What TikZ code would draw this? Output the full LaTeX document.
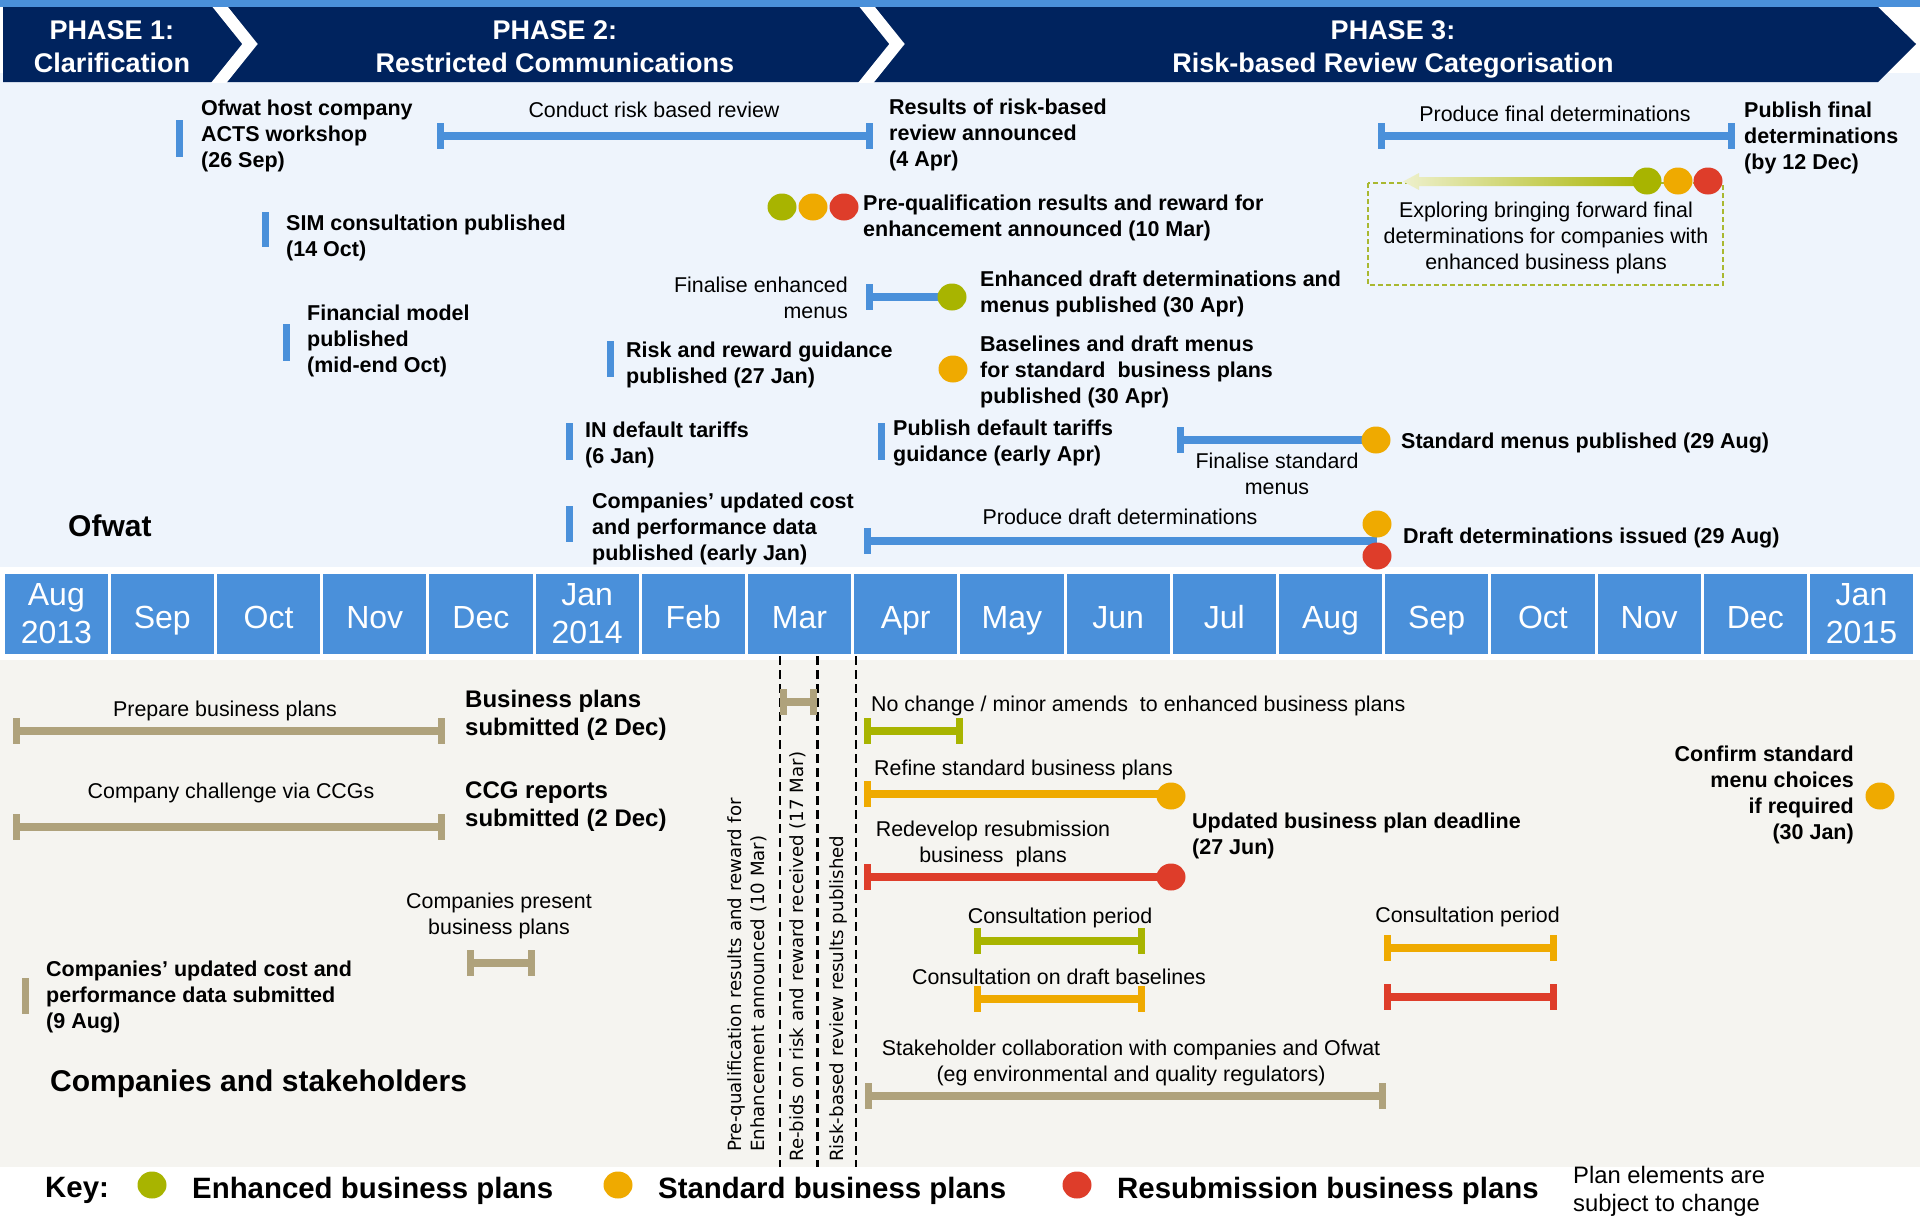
\documentclass[tikz,border=0pt]{standalone}
\usepackage{fontspec}
\setmainfont{Liberation Sans}
\newfontfamily\dvs{DejaVu Sans}
\definecolor{navy}{HTML}{00235E}
\definecolor{lblue}{HTML}{4A90DA}
\definecolor{ofbg}{HTML}{EEF4FC}
\definecolor{cobg}{HTML}{F5F4F0}
\definecolor{tanc}{HTML}{AFA27C}
\definecolor{enh}{HTML}{A8B400}
\definecolor{std}{HTML}{EFAA00}
\definecolor{rsb}{HTML}{DE3D2A}
\definecolor{dashg}{HTML}{A9B830}
% timeline bar with ticks at both ends: colour, x1, x2, y
\newcommand{\tlbar}[4]{%
  \fill[#1] ({#2},{#4-3.75}) rectangle ({#3},{#4+3.75});
  \fill[#1] ({#2},{#4-13}) rectangle ({#2+7},{#4+13});
  \fill[#1] ({#3-7},{#4-13}) rectangle ({#3},{#4+13});}
% bar with left tick only
\newcommand{\tlbarl}[4]{%
  \fill[#1] ({#2},{#4-3.75}) rectangle ({#3},{#4+3.75});
  \fill[#1] ({#2},{#4-13}) rectangle ({#2+7},{#4+13});}
% milestone tick: colour, x, y1, y2
\newcommand{\mtick}[4]{\fill[#1] ({#2},{#3}) rectangle ({#2+7},{#4});}
% coloured dot: colour, x, y
\newcommand{\blob}[3]{\fill[#1] ({#2},{#3}) ellipse [x radius=14.5, y radius=13.5];}
\begin{document}
\begin{tikzpicture}[x=1pt,y=-1pt,
  reg/.style={font=\fontsize{21.4}{26}\selectfont, inner sep=0pt, align=left},
  bld/.style={font=\fontsize{21.5}{26}\selectfont\bfseries, inner sep=0pt, align=left, yshift=-2.5pt},
  bigb/.style={font=\fontsize{24}{28}\selectfont\bfseries, inner sep=0pt, align=left, yshift=-2.5pt},
  head/.style={font=\fontsize{30}{34}\selectfont\bfseries, inner sep=0pt, yshift=-1.5pt},
  phase/.style={font=\fontsize{27}{33}\selectfont\bfseries, text=white, align=center, inner sep=0pt},
  month/.style={font=\fontsize{32}{38}\selectfont, text=white, inner sep=0pt, anchor=base},
  vert/.style={font=\dvs\fontsize{18.2}{23}\selectfont, rotate=90, anchor=west, align=left, inner sep=0pt},
  keyt/.style={font=\fontsize{29.4}{34}\selectfont\bfseries, inner sep=0pt, anchor=west, yshift=-2.5pt},
]
\useasboundingbox (0,0) rectangle (1920,1218);
\fill[white] (0,0) rectangle (1920,1218);
% backgrounds
\fill[ofbg] (0,73) rectangle (1920,567);
\fill[cobg] (0,660) rectangle (1920,1167);
\fill[lblue] (0,0) rectangle (1920,7);
% phase banner
\fill[navy] (3,7) -- (1878,7) -- (1916,44) -- (1878,82) -- (3,82) -- cycle;
\begin{scope}
  \clip (0,7) rectangle (1920,82);
  \draw[white, line width=12pt, miter limit=10] (213,-2) -- (250,44) -- (213,90);
  \draw[white, line width=12pt, miter limit=10] (860,-2) -- (897,44) -- (860,90);
\end{scope}
\node[phase] (ph1) at (112,46.5) {PHASE 1:\\Clarification};
\node[phase] (ph2) at (555,46.5) {PHASE 2:\\Restricted Communications};
\node[phase] (ph3) at (1393,49) {PHASE 3:\\Risk-based Review Categorisation};

% ---------------- Ofwat section ----------------
\node[head, anchor=west] (ofwat) at (68,524) {Ofwat};

\mtick{lblue}{176}{120}{157}
\node[bld, anchor=west] (acts) at (201,133) {Ofwat host company\\ACTS workshop\\(26 Sep)};

\tlbar{lblue}{437}{873}{136}
\node[reg] (crbr) at (654,110) {Conduct risk based review};
\node[bld, anchor=west] (rrba) at (889,132) {Results of risk-based\\review announced\\(4 Apr)};

\mtick{lblue}{262}{212}{247}
\node[bld, anchor=west] (sim) at (286,235) {SIM consultation published\\(14 Oct)};

\mtick{lblue}{283}{324}{361}
\node[bld, anchor=west] (fin) at (307,338) {Financial model\\published\\(mid-end Oct)};

\blob{enh}{782}{207}
\blob{std}{813}{207}
\blob{rsb}{844}{207}
\node[bld, anchor=west] (preq) at (863,215) {Pre-qualification results and reward for\\enhancement announced (10 Mar)};

\node[reg, anchor=east, align=right] (fem) at (848,297.5) {Finalise enhanced\\menus};
\tlbarl{lblue}{866}{952}{297}
\blob{enh}{952}{297}
\node[bld, anchor=west] (edd) at (980,291) {Enhanced draft determinations and\\menus published (30 Apr)};

\mtick{lblue}{607}{341}{377}
\node[bld, anchor=west] (rrg) at (626,362) {Risk and reward guidance\\published (27 Jan)};

\blob{std}{953}{369}
\node[bld, anchor=west] (base) at (980,369) {Baselines and draft menus\\for standard\ \ business plans\\published (30 Apr)};

\mtick{lblue}{566}{423}{460}
\node[bld, anchor=west] (indt) at (585,442) {IN default tariffs\\(6 Jan)};

\mtick{lblue}{878}{423}{460}
\node[bld, anchor=west] (pdtg) at (893,440) {Publish default tariffs\\guidance (early Apr)};

\tlbarl{lblue}{1177}{1376}{440}
\blob{std}{1376}{440}
\node[reg, align=center] (fsm) at (1277,473.5) {Finalise standard\\menus};
\node[bld, anchor=west] (smp) at (1401,440) {Standard menus published (29 Aug)};

\mtick{lblue}{566}{506}{542}
\node[bld, anchor=west] (cucp) at (592,526) {Companies’ updated cost\\and performance data\\published (early Jan)};

\tlbarl{lblue}{864}{1377}{541}
\node[reg] (pdd) at (1120,517) {Produce draft determinations};
\blob{std}{1377}{524}
\blob{rsb}{1377}{556}
\node[bld, anchor=west] (ddi) at (1403,535) {Draft determinations issued (29 Aug)};

\tlbar{lblue}{1378}{1735}{136}
\node[reg] (pfd) at (1555,114) {Produce final determinations};
\node[bld, anchor=west] (pubf) at (1744,135) {Publish final\\determinations\\(by 12 Dec)};

\draw[dashg, line width=2pt, dash pattern=on 5pt off 3pt] (1368,183) rectangle (1723,285);
\node[reg, align=center] (expl) at (1546,238) {Exploring bringing forward final\\determinations for companies with\\enhanced business plans};
\shade[left color=enh!20, right color=enh] (1403,181.5) -- (1419,173) -- (1419,177) -- (1647,177) -- (1647,186) -- (1419,186) -- (1419,190) -- cycle;
\blob{enh}{1647}{181}
\blob{std}{1678}{181}
\blob{rsb}{1708}{181}

% ---------------- month bar ----------------
\foreach \m/\yr [count=\i from 0] in {Aug/2013,Sep/,Oct/,Nov/,Dec/,Jan/2014,Feb/,Mar/,Apr/,May/,Jun/,Jul/,Aug/,Sep/,Oct/,Nov/,Dec/,Jan/2015}{
  \pgfmathsetmacro\xl{max(5,4.5+106.2*\i)}
  \pgfmathsetmacro\xr{1.5+106.2*(\i+1)}
  \fill[lblue] (\xl,574) rectangle (\xr,654);
  \ifx\yr\empty
    \node[month] (m\i) at ({(\xl+\xr)/2},628.5) {\m};
  \else
    \node[month] (m\i) at ({(\xl+\xr)/2},605.5) {\m};
    \node[month] (y\i) at ({(\xl+\xr)/2},643.5) {\yr};
  \fi
}

% ---------------- Companies section ----------------
\foreach \x in {780,817.5,856}{
  \draw[black, line width=2.2pt, dash pattern=on 9pt off 5pt] (\x,656) -- (\x,1167);
}
\tlbar{tanc}{780}{817}{702}
\node[vert] (v1) at (747.5,1152) {Pre-qualification results and reward for\\Enhancement announced (10 Mar)};
\node[vert] (v2) at (798,1162) {Re-bids on risk and reward received (17 Mar)};
\node[vert] (v3) at (838,1162) {Risk-based review results published};

\tlbar{tanc}{13}{445}{731}
\node[reg] (pbp) at (225,711) {Prepare business plans};
\node[bigb, anchor=west] (bps) at (465,713) {Business plans\\submitted (2 Dec)};

\tlbar{tanc}{13}{445}{827}
\node[reg] (ccc) at (231,793) {Company challenge via CCGs};
\node[bigb, anchor=west] (ccg) at (465,804) {CCG reports\\submitted (2 Dec)};

\node[reg, align=center] (cpb) at (499,915.5) {Companies present\\business plans};
\tlbar{tanc}{467}{535}{963}

\mtick{tanc}{22}{978}{1014}
\node[bld, anchor=west] (cus) at (46,994) {Companies’ updated cost and\\performance data submitted\\(9 Aug)};

\node[head, anchor=west] (cas) at (50,1082) {Companies and stakeholders};

\tlbar{enh}{864}{963}{731}
\node[reg, anchor=west] (noc) at (871,706) {No change / minor amends\ \ to enhanced business plans};

\tlbarl{std}{864}{1171}{794}
\blob{std}{1171}{796}
\node[reg, anchor=west] (rsbp) at (874,770) {Refine standard business plans};

\node[bld, anchor=west] (ubpd) at (1192,833) {Updated business plan deadline\\(27 Jun)};

\tlbarl{rsb}{864}{1171}{877}
\blob{rsb}{1171}{877}
\node[reg, align=center] (rrbp) at (993,844) {Redevelop resubmission\\business\ \ plans};

\tlbar{enh}{974}{1145}{941}
\node[reg] (cp1) at (1060,918) {Consultation period};

\tlbar{std}{974}{1145}{999}
\node[reg] (cdb) at (1059,977) {Consultation on draft baselines};

\tlbar{std}{1384}{1557}{948}
\node[reg] (cp2) at (1467.5,917) {Consultation period};
\tlbar{rsb}{1384}{1557}{997}

\node[reg, align=center] (stk) at (1131,1062.5) {Stakeholder collaboration with companies and Ofwat\\(eg environmental and quality regulators)};
\tlbar{tanc}{865}{1386}{1096}

\node[bld, anchor=east, align=right] (csm) at (1854,792) {Confirm standard\\menu choices\\if required\\(30 Jan)};
\blob{std}{1880}{796}

% ---------------- key ----------------
\node[keyt] (key) at (45,1188) {Key:};
\blob{enh}{152}{1185}
\node[keyt] (k1) at (192,1188) {Enhanced business plans};
\blob{std}{618}{1185}
\node[keyt] (k2) at (658,1188) {Standard business plans};
\blob{rsb}{1077}{1185}
\node[keyt] (k3) at (1117,1188) {Resubmission business plans};
\node[font=\fontsize{23.8}{28}\selectfont, inner sep=0pt, align=left, anchor=west, yshift=-2pt] (note) at (1573,1189) {Plan elements are\\subject to change};
\end{tikzpicture}
\end{document}
